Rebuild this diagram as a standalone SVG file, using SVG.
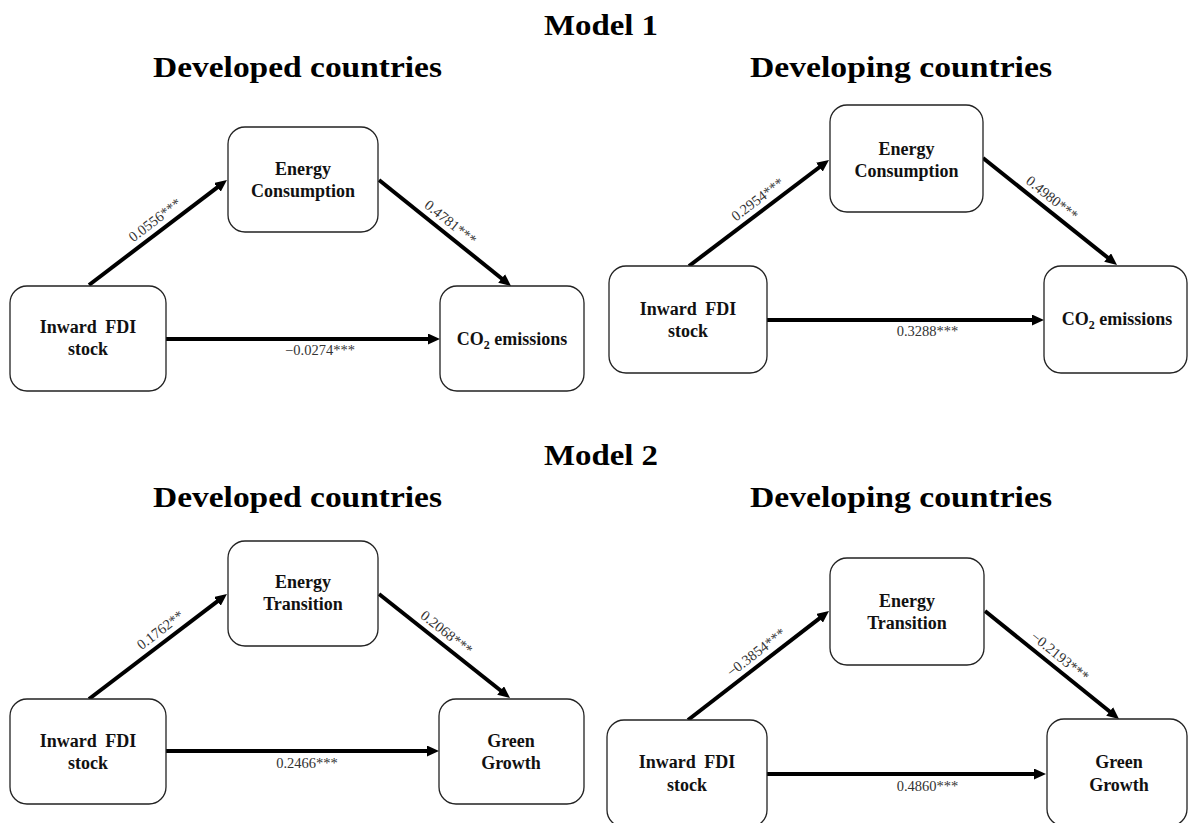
<svg xmlns="http://www.w3.org/2000/svg" width="1188" height="823" viewBox="0 0 1188 823">
<defs>
<style>
.title{font-family:"Liberation Serif","Times New Roman",serif;font-weight:bold;font-size:30px;fill:#000;text-anchor:middle;}
.box{fill:#fff;stroke:#222;stroke-width:1.3;}
.nt{font-family:"Liberation Serif","Times New Roman",serif;font-weight:bold;font-size:18px;fill:#111;text-anchor:middle;}
.ws{word-spacing:4px;}
.lb{font-family:"Liberation Serif","Times New Roman",serif;font-size:14.5px;fill:#333;text-anchor:middle;}
.ar{stroke:#000;stroke-width:4;fill:none;marker-end:url(#ah);}
</style>
<marker id="ah" markerUnits="userSpaceOnUse" markerWidth="12" markerHeight="11" refX="2" refY="5.5" orient="auto">
<path d="M0,0 L12,5.5 L0,11 z" fill="#000"/>
</marker>
</defs>
<rect width="1188" height="823" fill="#fff"/>

<g id="titles">
<text class="title" x="601" y="35" textLength="114" lengthAdjust="spacingAndGlyphs">Model 1</text>
<text class="title" x="297.5" y="77" textLength="289" lengthAdjust="spacingAndGlyphs">Developed countries</text>
<text class="title" x="901" y="77" textLength="302" lengthAdjust="spacingAndGlyphs">Developing countries</text>
<text class="title" x="601" y="465" textLength="114" lengthAdjust="spacingAndGlyphs">Model 2</text>
<text class="title" x="297.5" y="507" textLength="289" lengthAdjust="spacingAndGlyphs">Developed countries</text>
<text class="title" x="901" y="507" textLength="302" lengthAdjust="spacingAndGlyphs">Developing countries</text>
</g>

<g id="connectors">
<line class="ar" x1="89" y1="285" x2="219" y2="186.1"/>
<line class="ar" x1="379" y1="180" x2="503.2" y2="279.7"/>
<line class="ar" x1="166" y1="339" x2="430" y2="339"/>
<line class="ar" x1="689" y1="266" x2="821" y2="166"/>
<line class="ar" x1="983" y1="158" x2="1109.2" y2="258.8"/>
<line class="ar" x1="767" y1="320" x2="1034" y2="320"/>
<line class="ar" x1="89" y1="699" x2="219" y2="600.1"/>
<line class="ar" x1="379" y1="594" x2="502.2" y2="691.8"/>
<line class="ar" x1="166" y1="751" x2="429" y2="751"/>
<line class="ar" x1="688" y1="720" x2="821.1" y2="617.1"/>
<line class="ar" x1="985" y1="611" x2="1111.2" y2="712.7"/>
<line class="ar" x1="767" y1="774" x2="1036" y2="774"/>

<text class="lb" transform="translate(162,229.4) rotate(-37.3)" y="-7">0.0556***</text>
<text class="lb" transform="translate(443.2,231.6) rotate(38.8)" y="-7">0.4781***</text>
<text class="lb" x="320" y="354.5">−0.0274***</text>

<text class="lb" transform="translate(764.7,208.7) rotate(-37.1)" y="-7">0.2954***</text>
<text class="lb" transform="translate(1044.7,207.3) rotate(38.6)" y="-7">0.4980***</text>
<text class="lb" x="927.5" y="336">0.3288***</text>

<text class="lb" transform="translate(167.4,639.4) rotate(-37.3)" y="-7">0.1762**</text>
<text class="lb" transform="translate(439.3,641.9) rotate(38.4)" y="-7">0.2068***</text>
<text class="lb" x="307" y="768">0.2466***</text>

<text class="lb" transform="translate(763.3,661.8) rotate(-37.7)" y="-7">−0.3854***</text>
<text class="lb" transform="translate(1052.6,665.5) rotate(38.9)" y="-7">−0.2193***</text>
<text class="lb" x="927.5" y="790.5">0.4860***</text>
</g>

<g id="m1-dev-energy">
<rect class="box" x="228" y="127" width="150" height="105" rx="17"/>
<text class="nt" x="303" y="175">Energy</text>
<text class="nt" x="303" y="197">Consumption</text>
</g>
<g id="m1-dev-fdi">
<rect class="box" x="10" y="286" width="156" height="105" rx="17"/>
<text class="nt ws" x="88" y="333">Inward FDI</text>
<text class="nt" x="88" y="355">stock</text>
</g>
<g id="m1-dev-co2">
<rect class="box" x="440" y="286" width="144" height="105" rx="17"/>
<text class="nt" x="512" y="345">CO<tspan font-size="12" dy="4">2</tspan><tspan dy="-4"> emissions</tspan></text>
</g>

<g id="m1-dvg-energy">
<rect class="box" x="830" y="105" width="153" height="107" rx="17"/>
<text class="nt" x="906.5" y="155">Energy</text>
<text class="nt" x="906.5" y="177">Consumption</text>
</g>
<g id="m1-dvg-fdi">
<rect class="box" x="609" y="266" width="158" height="107" rx="17"/>
<text class="nt ws" x="688" y="315">Inward FDI</text>
<text class="nt" x="688" y="337">stock</text>
</g>
<g id="m1-dvg-co2">
<rect class="box" x="1044" y="266" width="143" height="107" rx="17"/>
<text class="nt" x="1117" y="325">CO<tspan font-size="12" dy="4">2</tspan><tspan dy="-4"> emissions</tspan></text>
</g>

<g id="m2-dev-energy">
<rect class="box" x="228" y="541" width="150" height="105" rx="17"/>
<text class="nt" x="303" y="588">Energy</text>
<text class="nt" x="303" y="610">Transition</text>
</g>
<g id="m2-dev-fdi">
<rect class="box" x="10" y="699" width="156" height="105" rx="17"/>
<text class="nt ws" x="88" y="747">Inward FDI</text>
<text class="nt" x="88" y="769">stock</text>
</g>
<g id="m2-dev-green">
<rect class="box" x="439" y="699" width="145" height="105" rx="17"/>
<text class="nt" x="511" y="747">Green</text>
<text class="nt" x="511" y="769">Growth</text>
</g>

<g id="m2-dvg-energy">
<rect class="box" x="830" y="558" width="154" height="107" rx="17"/>
<text class="nt" x="907" y="607">Energy</text>
<text class="nt" x="907" y="629">Transition</text>
</g>
<g id="m2-dvg-fdi">
<rect class="box" x="607" y="720" width="160" height="107" rx="17"/>
<text class="nt ws" x="687" y="768">Inward FDI</text>
<text class="nt" x="687" y="791">stock</text>
</g>
<g id="m2-dvg-green">
<rect class="box" x="1047" y="719" width="140" height="107" rx="17"/>
<text class="nt" x="1119" y="768">Green</text>
<text class="nt" x="1119" y="791">Growth</text>
</g>
</svg>
